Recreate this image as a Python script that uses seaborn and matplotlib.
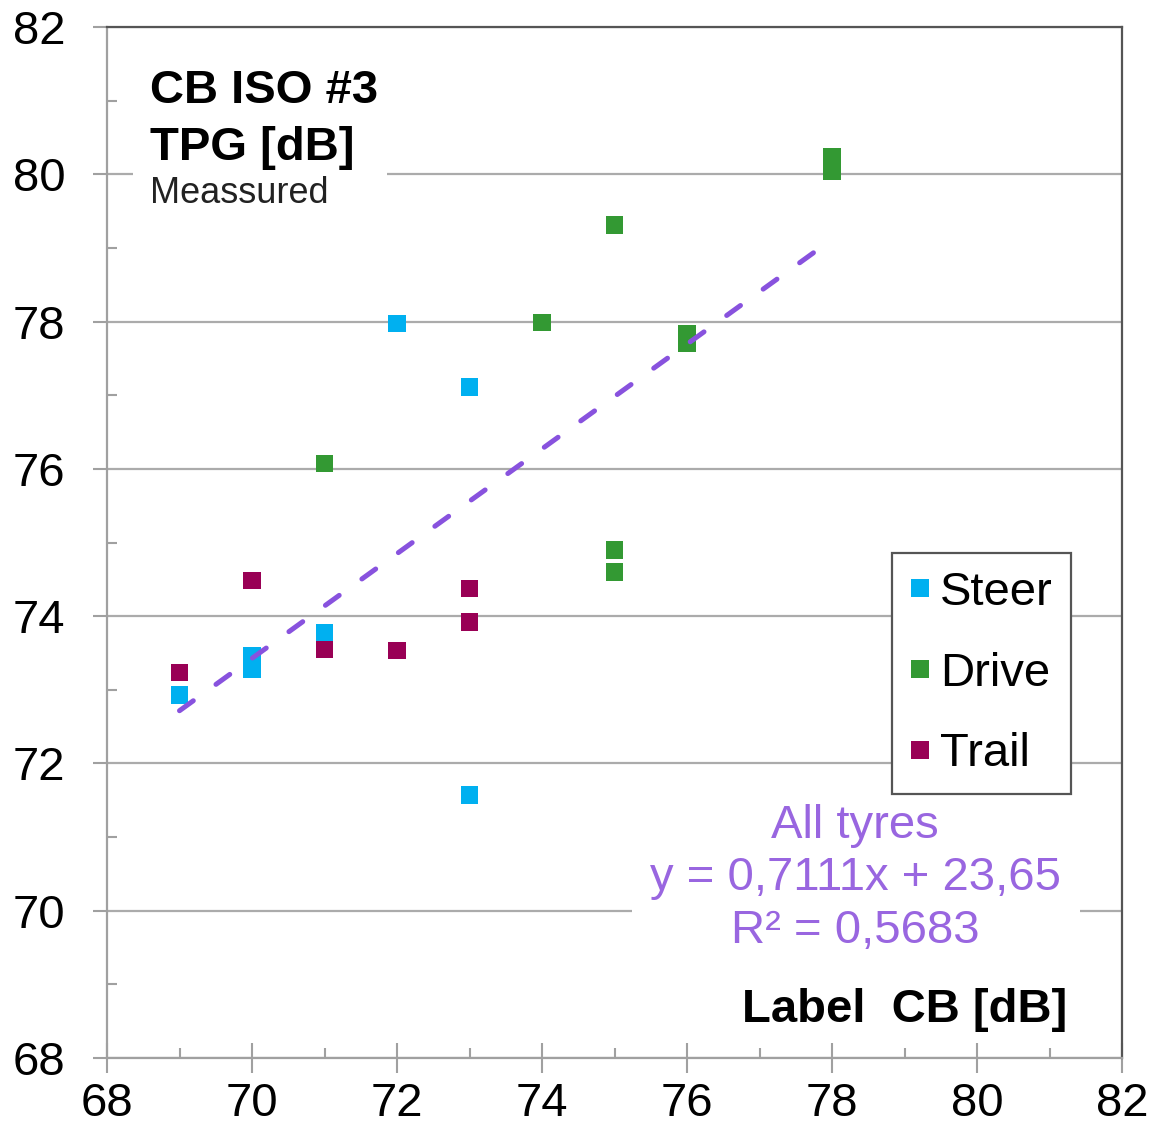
import numpy as np
import pandas as pd
import matplotlib
matplotlib.use("Agg")
import matplotlib.pyplot as plt
from matplotlib.lines import Line2D
from matplotlib.patches import Rectangle
from matplotlib.ticker import MultipleLocator
import seaborn as sns

# ---------------- data ----------------
steer_x = [69, 70, 70, 71, 72, 73, 73]
steer_y = [72.93, 73.47, 73.28, 73.77, 77.97, 77.11, 71.57]
drive_x = [71, 74, 75, 75, 75, 76, 76, 78, 78]
drive_y = [76.07, 77.99, 79.31, 74.90, 74.60, 77.84, 77.70, 80.24, 80.04]
trail_x = [69, 70, 71, 72, 73, 73]
trail_y = [73.23, 74.48, 73.55, 73.53, 74.38, 73.92]
groups = ["Steer", "Drive", "Trail"]
colors = ["#00B0F0", "#339933", "#990055"]
trend_slope = 0.7111
trend_intercept = 23.65
trend_x = [69.0, 77.75]
ticks = [68, 70, 72, 74, 76, 78, 80, 82]
tick_labels = [str(t) for t in ticks]
trend_text = ["All tyres", "y = 0,7111x + 23,65", "R² = 0,5683"]
title_lines = ["CB ISO #3", "TPG [dB]"]
subtitle = "Meassured"
xlabel_text = "Label  CB [dB]"

df = pd.DataFrame({
    "x": steer_x + drive_x + trail_x,
    "y": steer_y + drive_y + trail_y,
    "group": ["Steer"] * len(steer_x) + ["Drive"] * len(drive_x) + ["Trail"] * len(trail_x),
})

sns.set_theme(style="white")
plt.rcParams["font.family"] = ["Liberation Sans", "DejaVu Sans"]
plt.rcParams["text.color"] = "black"

fig = plt.figure(figsize=(11.56, 11.33), dpi=100)
ax = fig.add_axes([107 / 1156, 1 - 1058 / 1133, 1015 / 1156, 1031 / 1133])

sns.scatterplot(data=df, x="x", y="y", hue="group", hue_order=groups,
                palette=dict(zip(groups, colors)), marker="s", s=155,
                linewidth=0, ax=ax, legend=False, zorder=3)

tx = np.array(trend_x)
ax.plot(tx, trend_slope * tx + trend_intercept, color="#8852DE", lw=3.6,
        dashes=(3.4, 5.6), dash_capstyle="round", zorder=4)

ax.set_xlim(68, 82)
ax.set_ylim(68, 82)
ax.set_xticks(ticks)
ax.set_xticklabels(tick_labels)
ax.set_yticks(ticks)
ax.set_yticklabels(tick_labels)
ax.xaxis.set_minor_locator(MultipleLocator(1))
ax.yaxis.set_minor_locator(MultipleLocator(1))
ax.set_xlabel("")
ax.set_ylabel("")

ax.set_axisbelow(True)
ax.grid(False)
ax.yaxis.grid(True, which="major", color="#ABABAB", lw=1.6)

ax.tick_params(axis="x", which="major", direction="inout", length=22, width=1.5,
               color="#A0A0A0", labelsize=34, pad=6, labelcolor="black")
ax.tick_params(axis="x", which="minor", direction="in", length=7, width=1.5,
               color="#A0A0A0")
ax.tick_params(axis="y", which="major", direction="out", length=10, width=1.5,
               color="#A0A0A0", labelsize=34, pad=20, labelcolor="black")
ax.tick_params(axis="y", which="minor", direction="in", length=7, width=1.5,
               color="#A0A0A0")
ax.tick_params(bottom=True, left=True, which="both")

for side in ["left", "bottom"]:
    ax.spines[side].set_color("#A0A0A0")
    ax.spines[side].set_linewidth(1.6)
for side in ["top", "right"]:
    ax.spines[side].set_color("#555555")
    ax.spines[side].set_linewidth(1.6)

# white backgrounds behind texts
ax.add_patch(Rectangle((0.0256, 0.818), 0.25, 0.15, transform=ax.transAxes,
                       facecolor="white", edgecolor="none", zorder=1))
ax.add_patch(Rectangle((0.517, 0.105), 0.442, 0.145, transform=ax.transAxes,
                       facecolor="white", edgecolor="none", zorder=1))

ax.text(0.042, 0.926, title_lines[0], transform=ax.transAxes, fontsize=34,
        fontweight="bold", color="black", va="baseline", ha="left", zorder=5)
ax.text(0.042, 0.871, title_lines[1], transform=ax.transAxes, fontsize=34,
        fontweight="bold", color="black", va="baseline", ha="left", zorder=5)
ax.text(0.042, 0.829, subtitle, transform=ax.transAxes, fontsize=26,
        color="#222222", va="baseline", ha="left", zorder=5)

for txt, yb in zip(trend_text, [0.2134, 0.163, 0.1115]):
    ax.text(0.737, yb, txt, transform=ax.transAxes, fontsize=34,
            color="#9966E0", va="baseline", ha="center", zorder=5)

ax.text((1067 - 107) / 1015, (1058 - 1010) / 1031, xlabel_text, transform=ax.transAxes,
        fontsize=34, fontweight="bold", color="black", va="center", ha="right", zorder=5)

handles = [Line2D([], [], linestyle="none", marker="s", markersize=13,
                  markerfacecolor=c, markeredgewidth=0) for c in colors]
leg = ax.legend(handles, groups, loc="upper left", bbox_to_anchor=(0.773, 0.490),
                frameon=True, fancybox=False, framealpha=1, edgecolor="#555555",
                fontsize=34, handlelength=0.45, handletextpad=0.2, labelspacing=0.78,
                borderpad=0.38, borderaxespad=0, labelcolor="black")
leg.get_frame().set_linewidth(1.6)

fig.savefig("out.png", dpi=100)
